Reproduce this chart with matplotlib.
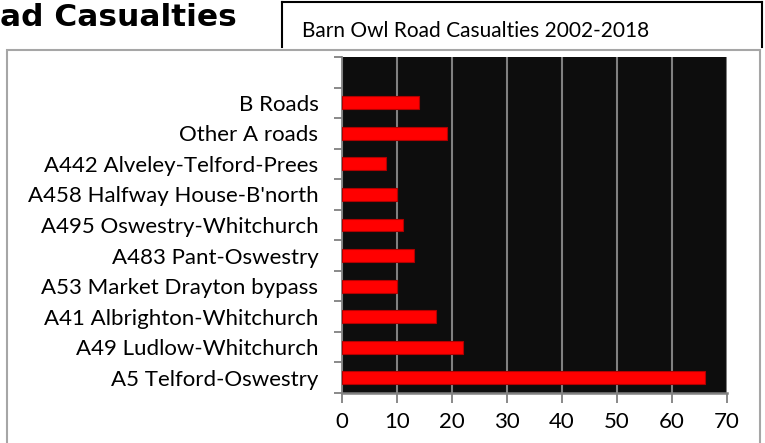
import matplotlib
matplotlib.use("Agg")
import matplotlib.pyplot as plt
from matplotlib.patches import Rectangle
from matplotlib.lines import Line2D

# road categories, bottom to top (as drawn)
roads = ["A5 Telford-Oswestry", "A49 Ludlow-Whitchurch", "A41 Albrighton-Whitchurch",
         "A53 Market Drayton bypass", "A483 Pant-Oswestry", "A495 Oswestry-Whitchurch",
         "A458 Halfway House-B'north", "A442 Alveley-Telford-Prees", "Other A roads", "B Roads"]
casualties = [66, 22, 17, 10, 13, 11, 10, 8, 19, 14]
x_ticks = [0, 10, 20, 30, 40, 50, 60, 70]

W, H = 765, 443
plt.rcParams['font.family'] = ['Lato', 'DejaVu Sans']

fig = plt.figure(figsize=(W / 100, H / 100), dpi=100)

def fx(px):
    return px / W

def fy(py):
    return 1 - py / H

# heading (only its tail is visible in the reference)
fig.text(fx(0), fy(26), "ad Casualties", ha='left', va='baseline',
         fontsize=22.5, fontweight='bold', family='DejaVu Sans', color='black')

# title box (three sides)
for xs, ys in [([282, 282], [47, 2]), ([282, 762], [2, 2]), ([762, 762], [2, 47])]:
    fig.add_artist(Line2D([fx(x) for x in xs], [fy(y) for y in ys], color='black', lw=1.5))
fig.text(fx(302), fy(37), "Barn Owl Road Casualties 2002-2018", ha='left', va='baseline',
         fontsize=15, color='black')

# chart frame
fig.add_artist(Rectangle((fx(7), fy(460)), fx(760) - fx(7), fy(50) - fy(460),
                         transform=fig.transFigure, facecolor='white',
                         edgecolor='#a6a6a6', lw=1.5, zorder=0))

ax = fig.add_axes([fx(342), fy(393), fx(727) - fx(342), fy(57) - fy(393)])
ax.set_facecolor('#0d0d0d')
ax.barh(range(len(roads)), casualties, height=0.42, color='#ff0000',
        edgecolor='#b00000', linewidth=0.8, zorder=3)

ax.set_xlim(0, 70)
ax.set_ylim(-0.5, len(roads) + 0.5)
ax.set_xticks(x_ticks)
ax.set_xticklabels([str(v) for v in x_ticks])
ax.set_yticks(range(len(roads)))
ax.set_yticklabels(roads)
ax.set_yticks([i - 0.5 for i in range(len(roads) + 2)], minor=True)

ax.grid(axis='x', color='#808080', lw=1.5, zorder=1)
ax.tick_params(axis='y', which='major', length=0, pad=17, labelsize=16)
ax.tick_params(axis='y', which='minor', length=6, width=1.3, color='#808080')
ax.tick_params(axis='x', length=7, width=1.3, color='#808080', pad=7, labelsize=16)

for s in ['top', 'right']:
    ax.spines[s].set_visible(False)
ax.spines['left'].set_color('#808080')
ax.spines['left'].set_linewidth(1.3)
ax.spines['bottom'].set_color('#808080')
ax.spines['bottom'].set_linewidth(1.8)

fig.savefig("out.png", dpi=100)
